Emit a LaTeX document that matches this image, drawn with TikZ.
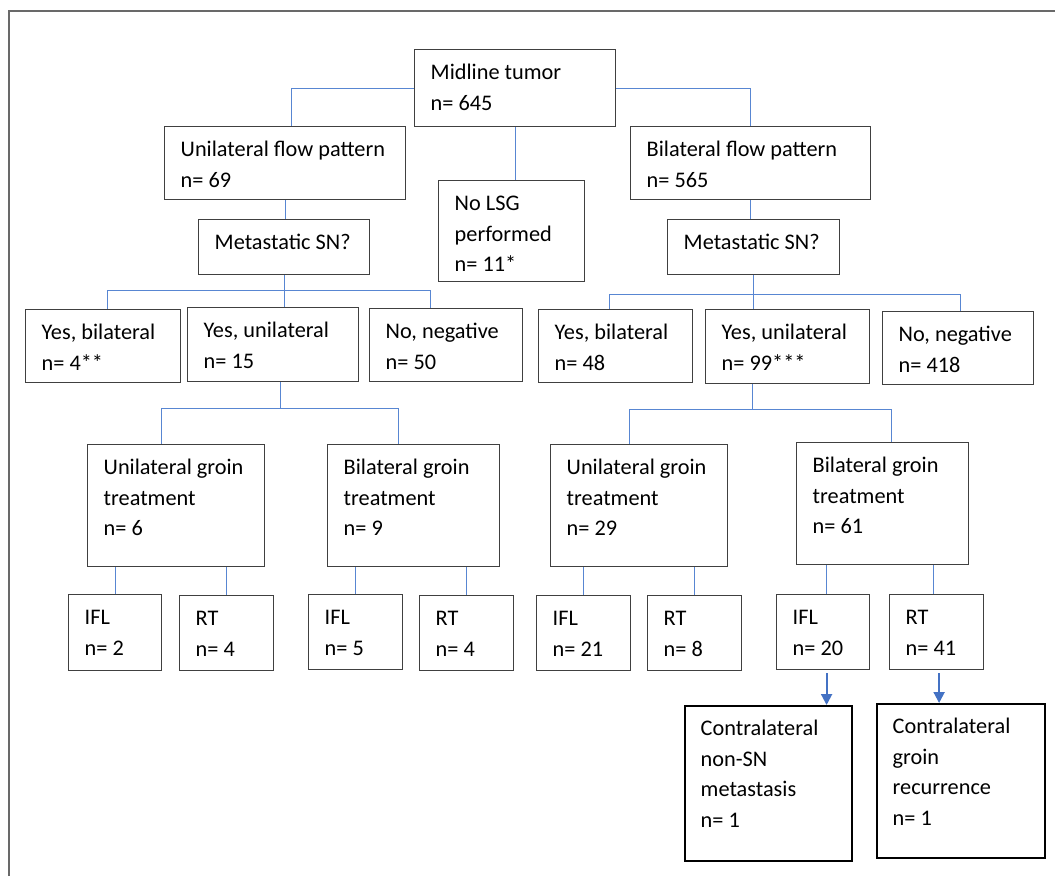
\documentclass[tikz,border=0pt]{standalone}
\usepackage{fontspec}
\setmainfont{Carlito}
\usepackage{tikz}
\usetikzlibrary{arrows.meta}

\definecolor{boxgray}{RGB}{64,64,64}
\definecolor{linkblue}{RGB}{88,134,210}
\definecolor{arrowblue}{RGB}{68,114,196}
\definecolor{framegray}{RGB}{105,105,105}

\tikzset{
	box/.style = {draw = boxgray, line width = 1.2pt, rectangle, anchor = north west, inner sep = 0pt},
	endbox/.style = {draw = black, line width = 2pt},
	txt/.style = {anchor = base west, inner sep = 0pt, font = \fontsize{22.3}{30.5}\selectfont},
	link/.style = {draw = linkblue, line width = 1pt},
	hit/.style = {draw = arrowblue, line width = 2pt, -{Triangle[width = 11pt, length = 11pt]}},
}

\newcommand{\flowbox}[7][]{%
	\node[box, #1, minimum width = #5, minimum height = #6] at (#3,#4) (#2) {};
	\node[txt] at ([xshift = 16.5pt, yshift = -30.5pt]#2.north west) (#2t) {\begin{tabular}[t]{@{}l@{}}#7\end{tabular}};
}

\begin{document}
\begin{tikzpicture}[x = 1pt, y = -1pt]
		\useasboundingbox (0,0) rectangle (1055,876);
		\draw[framegray, line width = 1.5pt] (9,876) -- (9,11) -- (1055,11);

		\flowbox{mid}{414}{49}{201}{77}{Midline tumor\\n= 645}
		\flowbox{ufp}{164}{126}{241}{73}{Unilateral flow pattern\\n= 69}
		\flowbox{nolsg}{438}{180}{146}{101}{No LSG\\performed\\n= 11*}
		\flowbox{bfp}{630}{126}{240}{73}{Bilateral flow pattern\\n= 565}
		\flowbox{msnL}{198}{219}{171}{55}{Metastatic SN?}
		\flowbox{msnR}{667}{219}{172}{55}{Metastatic SN?}

		\flowbox{ybL}{25}{309}{155}{73}{Yes, bilateral\\n= 4**}
		\flowbox{yuL}{187}{307}{171}{74}{Yes, unilateral\\n= 15}
		\flowbox{nnL}{369}{308}{153}{73}{No, negative\\n= 50}
		\flowbox{ybR}{538}{309}{154}{73}{Yes, bilateral\\n= 48}
		\flowbox{yuR}{705}{309}{164}{74}{Yes, unilateral\\n= 99***}
		\flowbox{nnR}{882}{311}{151}{73}{No, negative\\n= 418}

		\flowbox{ugtL}{87}{444}{177}{122}{Unilateral groin\\treatment\\n= 6}
		\flowbox{bgtL}{327}{444}{172}{122}{Bilateral groin\\treatment\\n= 9}
		\flowbox{ugtR}{550}{444}{177}{122}{Unilateral groin\\treatment\\n= 29}
		\flowbox{bgtR}{796}{442}{172}{122}{Bilateral groin\\treatment\\n= 61}

		\flowbox{ifl1}{68}{594}{93}{76}{IFL\\n= 2}
		\flowbox{rt1}{179}{595}{94}{75}{RT\\n= 4}
		\flowbox{ifl2}{308}{594}{94}{75}{IFL\\n= 5}
		\flowbox{rt2}{419}{595}{94}{75}{RT\\n= 4}
		\flowbox{ifl3}{536}{595}{94}{75}{IFL\\n= 21}
		\flowbox{rt3}{647}{595}{94}{75}{RT\\n= 8}
		\flowbox{ifl4}{776}{594}{93}{75}{IFL\\n= 20}
		\flowbox{rt4}{889}{594}{94}{75}{RT\\n= 41}

		\flowbox[endbox]{cont1}{684}{705}{167}{155}{Contralateral\\non-SN\\metastasis\\n= 1}
		\flowbox[endbox]{cont2}{876}{703}{168}{154}{Contralateral\\groin\\recurrence\\n= 1}

		\draw[link] (mid.west) -| ([xshift = 6.5pt]ufp.north);
		\draw[link] (mid.east) -| (bfp.north);
		\draw[link] (mid.south) -- (mid.south |- nolsg.north);
		\draw[link] (ufp.south) -- (ufp.south |- msnL.north);
		\draw[link] (bfp.south) -- (bfp.south |- msnR.north);

		\draw[link] (msnL.south) -- ++(0,15) -| ([xshift = 4.5pt]ybL.north);
		\draw[link] (msnL.south) -- ++(0,15) -| ([xshift = -16pt]nnL.north);
		\draw[link] (msnL.south) -- (msnL.south |- yuL.north);
		\draw[link] (msnR.south) -- ++(0,19.5) -| ([xshift = -6pt]ybR.north);
		\draw[link] (msnR.south) -- ++(0,19.5) -| ([xshift = 2.5pt]nnR.north);
		\draw[link] (msnR.south) -- (msnR.south |- yuR.north);

		\draw[link] ([xshift = 7pt]yuL.south) -- ++(0,26) -| ([xshift = -14.5pt]ugtL.north);
		\draw[link] ([xshift = 7pt]yuL.south) -- ++(0,26) -| ([xshift = -15pt]bgtL.north);
		\draw[link] ([xshift = -35pt]yuR.south) -- ++(0,25) -| ([xshift = -10pt]ugtR.north);
		\draw[link] ([xshift = -35pt]yuR.south) -- ++(0,25) -| ([xshift = 9pt]bgtR.north);

		\draw[link] (ifl1.north) -- (ifl1.north |- ugtL.south);
		\draw[link] (rt1.north) -- (rt1.north |- ugtL.south);
		\draw[link] (ifl2.north) -- (ifl2.north |- bgtL.south);
		\draw[link] (rt2.north) -- (rt2.north |- bgtL.south);
		\draw[link] (ifl3.north) -- (ifl3.north |- ugtR.south);
		\draw[link] (rt3.north) -- (rt3.north |- ugtR.south);
		\draw[link] ([xshift = 3pt]ifl4.north) -- ([xshift = 3pt]ifl4.north |- bgtR.south);
		\draw[link] ([xshift = -3pt]rt4.north) -- ([xshift = -3pt]rt4.north |- bgtR.south);

		\draw[hit] ([xshift = 3.5pt, yshift = -3pt]ifl4.south) -- ([xshift = 3.5pt]ifl4.south |- cont1.north);
		\draw[hit] ([xshift = 2.5pt, yshift = -3pt]rt4.south) -- ([xshift = 2.5pt]rt4.south |- cont2.north);
	\end{tikzpicture}
\end{document}
